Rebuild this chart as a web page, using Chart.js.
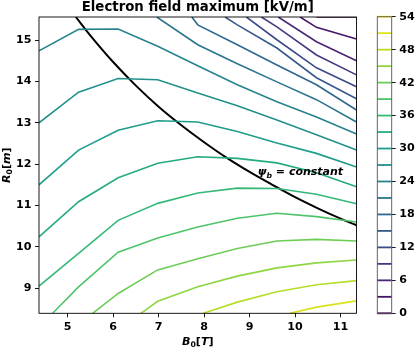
<!DOCTYPE html>
<html>
<head>
<meta charset="utf-8">
<script src="https://cdn.jsdelivr.net/npm/chart.js@4"></script>
<style>
  html, body { margin: 0; padding: 0; background: #fff; }
  #wrap { position: relative; width: 415px; height: 348px; }
  #main { position: absolute; left: 0; top: 0; }
  #cbar { position: absolute; left: 360px; top: 0; }
</style>
</head>
<body>
<div id="wrap">
  <canvas id="main" width="415" height="348"></canvas>
  <canvas id="cbar" width="55" height="348"></canvas>
</div>
<script>
// contour levels shown on the colorbar [kV/m]
const levels = [0, 3, 6, 9, 12, 15, 18, 21, 24, 27, 30, 33, 36, 39, 42, 45, 48, 51, 54];
const levelColors = ['#440154', '#471567', '#482777', '#443982', '#3e4a89', '#38598c', '#31688e',
  '#2b758e', '#26838e', '#21918c', '#1e9d89', '#25ab82', '#36b878', '#4fc36a', '#6ecd58',
  '#90d643', '#b5de2b', '#dbe21a', '#fde725'];
const cbarTicks = [0, 6, 12, 18, 24, 30, 36, 42, 48, 54];

// contour paths, [B0 (T), R0 (m)]
const e00 = [[10.47, 15.56], [11.35, 15.56]];
const e03 = [[10.11, 15.56], [10.47, 15.31], [11.35, 15.03]];
const e06 = [[9.63, 15.56], [10.47, 14.96], [11.35, 14.50]];
const e09 = [[9.26, 15.56], [9.60, 15.32], [10.47, 14.64], [11.35, 14.16]];
const e12 = [[8.93, 15.56], [9.60, 15.01], [10.47, 14.33], [11.35, 13.87]];
const e15 = [[8.46, 15.56], [8.73, 15.37], [9.60, 14.81], [10.47, 14.09], [11.35, 13.58]];
const e18 = [[7.73, 15.56], [7.86, 15.37], [8.73, 14.89], [9.60, 14.40], [10.47, 13.92], [11.35, 13.31]];
const e21 = [[6.96, 15.56], [7.86, 14.89], [8.73, 14.43], [9.60, 13.99], [10.47, 13.56], [11.35, 13.02]];
const e24 = [[4.37, 14.74], [5.24, 15.26], [6.11, 15.27], [6.98, 14.85], [7.86, 14.38], [8.73, 13.92], [9.60, 13.51], [10.47, 13.14], [11.35, 12.73]];
const e27 = [[4.37, 13.00], [5.24, 13.74], [6.11, 14.07], [6.98, 14.04], [7.86, 13.72], [8.73, 13.41], [9.60, 13.07], [10.47, 12.71], [11.35, 12.34]];
const e30 = [[4.37, 11.50], [5.24, 12.34], [6.11, 12.82], [6.98, 13.05], [7.86, 13.02], [8.73, 12.79], [9.60, 12.51], [10.47, 12.26], [11.35, 11.93]];
const e33 = [[4.37, 10.24], [5.24, 11.09], [6.11, 11.67], [6.98, 12.02], [7.86, 12.18], [8.73, 12.14], [9.60, 12.03], [10.47, 11.79], [11.35, 11.45]];
const e36 = [[4.37, 9.05], [5.24, 9.84], [6.11, 10.64], [6.98, 11.05], [7.86, 11.30], [8.73, 11.42], [9.60, 11.41], [10.47, 11.27], [11.35, 11.04]];
const e39 = [[4.67, 8.39], [5.24, 9.03], [6.11, 9.87], [6.98, 10.21], [7.86, 10.48], [8.73, 10.69], [9.60, 10.81], [10.47, 10.73], [11.35, 10.60]];
const e42 = [[5.55, 8.39], [6.11, 8.87], [6.98, 9.44], [7.86, 9.71], [8.73, 9.96], [9.60, 10.14], [10.47, 10.18], [11.35, 10.14]];
const e45 = [[6.61, 8.39], [6.98, 8.68], [7.86, 9.03], [8.73, 9.29], [9.60, 9.49], [10.47, 9.61], [11.35, 9.68]];
const e48 = [[7.98, 8.39], [8.73, 8.66], [9.60, 8.91], [10.47, 9.08], [11.35, 9.18]];
const e51 = [[9.89, 8.39], [10.47, 8.54], [11.35, 8.69]];

const contours = [[0, e00], [3, e03], [6, e06], [9, e09], [12, e12], [15, e15], [18, e18], [21, e21],
  [24, e24], [27, e27], [30, e30], [33, e33], [36, e36], [39, e39], [42, e42], [45, e45], [48, e48], [51, e51]];

// psi_b = constant curve
const psiB = [5.18, 5.5, 6.0, 6.5, 7.0, 7.5, 8.0, 8.5, 9.0, 9.5, 10.0, 10.5, 11.0, 11.35];
const psiR = [15.56, 15.11, 14.47, 13.90, 13.39, 12.94, 12.53, 12.15, 11.81, 11.50, 11.20, 10.93, 10.68, 10.52];

const FONT = '"DejaVu Sans"';
Chart.defaults.font.family = FONT;
Chart.defaults.color = '#000';

function colorOf(lvl) { return levelColors[levels.indexOf(lvl)]; }

// draws mixed math-ish text: parts = [[text, style, sub]]
function drawParts(ctx, parts, x, y, size, align) {
  const fontFor = (p) => (p[1] || 'bold') + ' ' + (p[2] ? size * 0.7 : size) + 'px ' + FONT;
  let w = 0;
  parts.forEach(p => { ctx.font = fontFor(p); w += ctx.measureText(p[0]).width; });
  let cx = align === 'center' ? x - w / 2 : x;
  ctx.textAlign = 'left';
  ctx.textBaseline = 'alphabetic';
  parts.forEach(p => {
    ctx.font = fontFor(p);
    ctx.fillText(p[0], cx, p[2] ? y + size * 0.22 : y);
    cx += ctx.measureText(p[0]).width;
  });
}

const decor = {
  id: 'decor',
  afterDatasetsDraw(chart) {
    const { ctx, chartArea: a, scales } = chart;
    ctx.save();
    ctx.strokeStyle = '#000';
    ctx.lineWidth = 0.9;
    ctx.strokeRect(a.left, a.top, a.right - a.left, a.bottom - a.top);
    ctx.fillStyle = '#000';
    ctx.font = 'bold 13.3px ' + FONT;
    ctx.textAlign = 'center';
    ctx.textBaseline = 'alphabetic';
    ctx.fillText('Electron field maximum [kV/m]', (a.left + a.right) / 2, 10.5);
    drawParts(ctx, [['B', 'bold italic'], ['0', 'bold', true], ['[', 'bold'], ['T', 'bold italic'], [']', 'bold']],
      (a.left + a.right) / 2, 345, 11.1, 'center');
    ctx.save();
    ctx.translate(10, (a.top + a.bottom) / 2);
    ctx.rotate(-Math.PI / 2);
    drawParts(ctx, [['R', 'bold italic'], ['0', 'bold', true], ['[', 'bold'], ['m', 'bold italic'], [']', 'bold']],
      0, 0, 11.1, 'center');
    ctx.restore();
    // curve label
    const lx = scales.x.getPixelForValue(9.18);
    const ly = scales.y.getPixelForValue(11.73);
    drawParts(ctx, [['ψ', 'bold italic'], ['b', 'bold italic', true], [' = constant', 'bold italic']], lx, ly, 11, 'left');
    ctx.restore();
  }
};

const datasets = contours.map(([lvl, pts]) => ({
  data: pts.map(p => ({ x: p[0], y: p[1] })),
  borderColor: colorOf(lvl),
  borderWidth: 1.6,
  pointRadius: 0,
  tension: 0,
  fill: false
}));
datasets.push({
  data: psiB.map((b, i) => ({ x: b, y: psiR[i] })),
  borderColor: '#000',
  borderWidth: 2,
  pointRadius: 0,
  tension: 0.4,
  fill: false
});

const tickGrid = { drawOnChartArea: false, drawTicks: true, tickLength: 4, color: '#000', lineWidth: 0.9 };

new Chart(document.getElementById('main'), {
  type: 'line',
  data: { datasets },
  options: {
    responsive: false,
    animation: false,
    devicePixelRatio: 1,
    layout: { padding: { top: 17, right: 58.5, left: 0, bottom: 0 } },
    plugins: { legend: { display: false }, tooltip: { enabled: false } },
    scales: {
      x: {
        type: 'linear', min: 4.37, max: 11.35,
        ticks: { stepSize: 1, includeBounds: false, padding: 3, font: { weight: 'bold', size: 11.1 } },
        grid: tickGrid,
        border: { display: false },
        afterFit: (s) => { s.height = 34.7; }
      },
      y: {
        type: 'linear', min: 8.39, max: 15.56,
        ticks: { stepSize: 1, includeBounds: false, padding: 3.5, font: { weight: 'bold', size: 11.1 } },
        grid: tickGrid,
        border: { display: false },
        afterFit: (s) => { s.width = 39; }
      }
    }
  },
  plugins: [decor]
});

// colorbar
const cbarBox = {
  id: 'cbarBox',
  afterDatasetsDraw(chart) {
    const { ctx, chartArea: a } = chart;
    ctx.save();
    ctx.strokeStyle = '#555';
    ctx.lineWidth = 0.9;
    ctx.strokeRect(a.left, a.top, a.right - a.left, a.bottom - a.top);
    ctx.restore();
  }
};

new Chart(document.getElementById('cbar'), {
  type: 'line',
  data: {
    datasets: levels.map(lvl => ({
      data: [{ x: 0, y: lvl }, { x: 1, y: lvl }],
      borderColor: colorOf(lvl),
      borderWidth: 1.8,
      pointRadius: 0,
      clip: false
    }))
  },
  options: {
    responsive: false,
    animation: false,
    devicePixelRatio: 1,
    layout: { padding: { top: 16.7, left: 17.3, bottom: 34.7, right: 0 } },
    plugins: { legend: { display: false }, tooltip: { enabled: false } },
    scales: {
      x: { type: 'linear', min: 0, max: 1, display: false },
      y: {
        type: 'linear', position: 'right', min: 0, max: 54,
        afterBuildTicks: (s) => { s.ticks = cbarTicks.map(v => ({ value: v })); },
        ticks: { padding: 3.5, font: { weight: 'bold', size: 11.1 } },
        grid: tickGrid,
        border: { display: false },
        afterFit: (s) => { s.width = 23.3; }
      }
    }
  },
  plugins: [cbarBox]
});
</script>
</body>
</html>
